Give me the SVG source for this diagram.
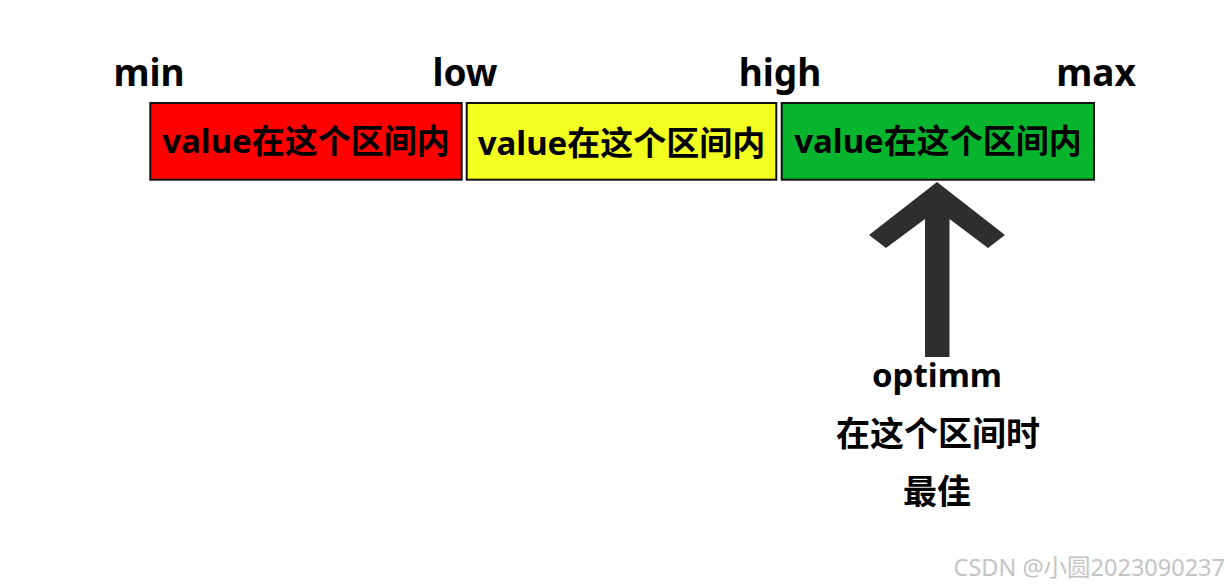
<svg xmlns="http://www.w3.org/2000/svg" width="1230" height="586" viewBox="0 0 1230 586">
<style>
.t{font-family:"Noto Sans","Noto Sans CJK SC",sans-serif;font-weight:bold;fill:#000;text-anchor:middle}
.lbl{font-size:37px}
.box{stroke:#111;stroke-width:2}
.in{font-size:33px}
.wm{font-family:"Noto Sans","Noto Sans CJK SC",sans-serif;font-size:23.5px;fill:#c4c4c4;text-anchor:end}
</style>
<rect width="1230" height="586" fill="#fff"/>
<g id="labels">
<text class="t lbl" x="149" y="86">min</text>
<text class="t lbl" x="465" y="86">low</text>
<text class="t lbl" x="780" y="86">high</text>
<text class="t lbl" x="1096" y="86">max</text>
</g>
<g id="seg-low">
<rect class="box" x="150.3" y="103" width="311.4" height="76.7" fill="#ff0000"/>
<text class="t in" x="306" y="153">value在这个区间内</text>
</g>
<g id="seg-mid">
<rect class="box" x="466.7" y="103" width="309.6" height="76.7" fill="#f3ff20"/>
<text class="t in" x="621.5" y="155">value在这个区间内</text>
</g>
<g id="seg-high">
<rect class="box" x="781.7" y="103" width="312.3" height="76.7" fill="#06b52d"/>
<text class="t in" x="938" y="153">value在这个区间内</text>
</g>
<g id="connectors">
<polygon points="937,182 1005,235 988,248 949.5,219 949.5,357 925,357 925,219 886,248 869,235" fill="#2e2e2e"/>
</g>
<g id="optimum">
<text class="t in" x="937" y="387">optimm</text>
<text class="t" style="font-size:34px" x="938" y="446">在这个区间时</text>
<text class="t" style="font-size:34px" x="937" y="504">最佳</text>
</g>
<text class="wm" x="1225" y="576">CSDN @小圆2023090237</text>
</svg>
